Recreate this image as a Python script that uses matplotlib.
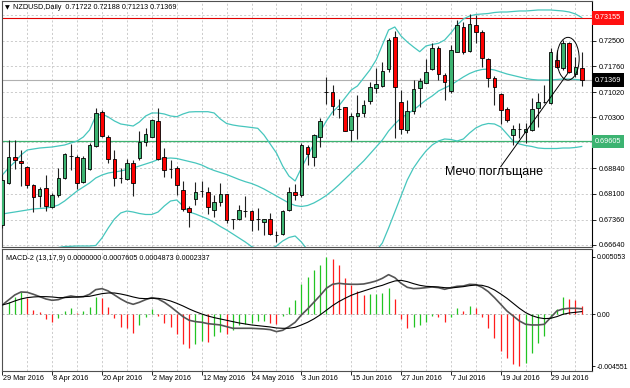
import matplotlib
matplotlib.use('Agg')
import matplotlib.pyplot as plt
from matplotlib.patches import Ellipse
import numpy as np
import pandas as pd

# ---------------- data ----------------
dates = pd.bdate_range('2016-03-29', '2016-08-05')

open_ = [0.67207,0.68422,0.69169,0.69054,0.68864,0.68356,0.68040,0.68261,0.67733,0.68069,
         0.68548,0.69189,0.69169,0.68442,0.68807,0.69476,0.70461,0.69743,0.69094,0.68548,
         0.68520,0.68979,0.69123,0.69600,0.69743,0.70194,0.69151,0.68807,0.68835,0.68212,
         0.67687,0.67945,0.68184,0.68164,0.67638,0.67877,0.68089,0.67379,0.67379,0.67618,
         0.67609,0.67370,0.67302,0.67370,0.66920,0.66949,0.67638,0.68146,0.68069,0.69456,
         0.69169,0.69726,0.71035,0.71018,0.70547,0.70588,0.69936,0.70338,0.70433,0.70768,
         0.71150,0.71199,0.71679,0.72615,0.70748,0.69936,0.70481,0.71150,0.71294,0.71679,
         0.72282,0.71515,0.71056,0.72184,0.72902,0.72213,0.72951,0.72741,0.71966,0.71420,
         0.70969,0.70530,0.69792,0.69964,0.69869,0.69936,0.70559,0.70748,0.70702,0.71946,
         0.71707,0.72425,0.71544,0.71722]
high = [0.68672,0.69648,0.69648,0.69361,0.68902,0.68385,0.68307,0.68643,0.68126,0.68835,
        0.69266,0.69525,0.69218,0.69189,0.69571,0.70559,0.70510,0.69792,0.69361,0.68835,
        0.69094,0.69074,0.69907,0.69984,0.70251,0.70559,0.69410,0.69074,0.68902,0.68480,
        0.67753,0.68451,0.68480,0.68290,0.68069,0.68405,0.68097,0.67385,0.67782,0.68048,
        0.67638,0.67687,0.67379,0.67543,0.67043,0.67638,0.68290,0.68385,0.69554,0.69505,
        0.69821,0.70272,0.71466,0.71228,0.70817,0.70596,0.70415,0.70941,0.70797,0.71323,
        0.71707,0.71897,0.72569,0.72787,0.71084,0.70797,0.71372,0.71420,0.71966,0.72425,
        0.72348,0.71564,0.72377,0.73095,0.73037,0.73267,0.73238,0.72807,0.72003,0.71486,
        0.70998,0.70605,0.70079,0.70137,0.70137,0.70855,0.71007,0.71228,0.72282,0.72233,
        0.72520,0.72473,0.72032,0.72188]
low = [0.67121,0.68385,0.68807,0.68327,0.68261,0.67589,0.67733,0.67618,0.67695,0.68020,
       0.68520,0.68787,0.68233,0.68413,0.68787,0.69456,0.69726,0.68979,0.68327,0.68405,
       0.68500,0.68040,0.69074,0.69476,0.69735,0.69074,0.68577,0.68548,0.68069,0.67618,
       0.67141,0.67782,0.68020,0.67523,0.67446,0.67753,0.67256,0.67083,0.67351,0.67446,
       0.67043,0.67064,0.66920,0.66920,0.66728,0.66920,0.67609,0.67925,0.68003,0.68930,
       0.68902,0.69439,0.70682,0.70366,0.70289,0.69907,0.69628,0.69668,0.70318,0.70673,
       0.71007,0.71179,0.71610,0.69697,0.69821,0.69858,0.70386,0.70605,0.71277,0.71659,
       0.71372,0.70797,0.70989,0.72176,0.72118,0.72176,0.72425,0.71754,0.71179,0.70654,
       0.70108,0.70174,0.69505,0.69706,0.69562,0.69916,0.70022,0.70711,0.70682,0.71716,
       0.71659,0.71573,0.71466,0.71213]
close = [0.68500,0.69169,0.69074,0.68979,0.68356,0.68020,0.68233,0.67753,0.68069,0.68548,
         0.69238,0.69192,0.68422,0.69123,0.69505,0.70433,0.69763,0.69112,0.68548,0.68552,
         0.68979,0.68405,0.69600,0.69821,0.70223,0.69103,0.68787,0.68803,0.68356,0.67658,
         0.67589,0.68146,0.68180,0.67733,0.67877,0.68089,0.67351,0.67375,0.67638,0.67614,
         0.67351,0.67366,0.67370,0.66949,0.66924,0.67618,0.68164,0.68069,0.69505,0.69246,
         0.69792,0.70194,0.71031,0.70625,0.70543,0.69916,0.70338,0.70433,0.70654,0.71162,
         0.71248,0.71630,0.72520,0.71162,0.69956,0.70481,0.71104,0.71351,0.71593,0.72282,
         0.71544,0.71323,0.72233,0.72951,0.72184,0.72978,0.72759,0.71995,0.71420,0.71162,
         0.70510,0.70223,0.69964,0.69960,0.69964,0.70530,0.70748,0.70752,0.72184,0.71736,
         0.72425,0.71593,0.71736,0.71369]

bb_upper = [0.68643,0.68844,0.69016,0.69217,0.69361,0.69390,0.69418,0.69433,0.69447,0.69476,
            0.69505,0.69562,0.69619,0.69734,0.69935,0.70337,0.70395,0.70309,0.70194,0.70108,
            0.70079,0.70050,0.70165,0.70337,0.70424,0.70424,0.70395,0.70337,0.70317,0.70395,
            0.70452,0.70461,0.70461,0.70461,0.70424,0.70251,0.70122,0.70079,0.70050,0.70030,
            0.70007,0.69984,0.69792,0.69533,0.69275,0.68901,0.68614,0.68471,0.68844,0.69189,
            0.69533,0.69878,0.70194,0.70452,0.70625,0.70854,0.71084,0.71199,0.71429,0.71659,
            0.71946,0.72377,0.72807,0.72894,0.72635,0.72463,0.72319,0.72184,0.72348,0.72391,
            0.72425,0.72520,0.72721,0.72951,0.73123,0.73209,0.73253,0.73267,0.73281,0.73310,
            0.73324,0.73324,0.73339,0.73353,0.73353,0.73367,0.73382,0.73382,0.73382,0.73367,
            0.73353,0.73324,0.73267,0.73166]
bb_mid = [0.67523,0.67552,0.67580,0.67609,0.67638,0.67667,0.67681,0.67695,0.67724,0.67781,
          0.67896,0.68040,0.68183,0.68298,0.68413,0.68557,0.68643,0.68700,0.68729,0.68758,
          0.68801,0.68844,0.68901,0.68959,0.69016,0.69088,0.69117,0.69131,0.69117,0.69074,
          0.69031,0.68988,0.68930,0.68844,0.68772,0.68715,0.68657,0.68586,0.68514,0.68451,
          0.68399,0.68327,0.68241,0.68140,0.68040,0.67939,0.67839,0.67767,0.67738,0.67767,
          0.67839,0.67939,0.68054,0.68198,0.68356,0.68528,0.68700,0.68873,0.69045,0.69246,
          0.69447,0.69648,0.69907,0.70108,0.70280,0.70395,0.70510,0.70653,0.70797,0.70912,
          0.71055,0.71142,0.71228,0.71343,0.71458,0.71558,0.71630,0.71673,0.71687,0.71659,
          0.71601,0.71544,0.71501,0.71458,0.71414,0.71386,0.71371,0.71371,0.71371,0.71386,
          0.71400,0.71400,0.71386,0.71371]
bb_lower = [0.66259,0.66317,0.66345,0.66374,0.66403,0.66432,0.66460,0.66489,0.66518,0.66561,
            0.66589,0.66595,0.66604,0.66604,0.66604,0.66618,0.66834,0.67121,0.67379,0.67552,
            0.67609,0.67580,0.67537,0.67509,0.67509,0.67580,0.67753,0.67896,0.67925,0.67753,
            0.67580,0.67523,0.67451,0.67379,0.67279,0.67164,0.67063,0.66949,0.66834,0.66719,
            0.66589,0.66518,0.66489,0.66518,0.66604,0.66747,0.66848,0.66891,0.66719,0.66489,
            0.66317,0.66231,0.66144,0.66087,0.66058,0.66058,0.66087,0.66144,0.66231,0.66317,
            0.66460,0.66690,0.67121,0.67580,0.68040,0.68499,0.68844,0.69103,0.69332,0.69505,
            0.69619,0.69677,0.69663,0.69619,0.69677,0.69849,0.69993,0.70079,0.70122,0.70108,
            0.70022,0.69821,0.69619,0.69533,0.69490,0.69462,0.69418,0.69404,0.69404,0.69404,
            0.69418,0.69418,0.69433,0.69462]

macd_hist = [0.000874,0.001049,0.001544,0.001981,0.001398,0.000350,0.000233,-0.000408,-0.000641,-0.000350,
             0.000291,0.000583,0.000087,0.000320,0.000670,0.001544,0.001398,0.000670,-0.000350,-0.001078,
             -0.001165,-0.001660,-0.000932,-0.000204,0.000437,-0.000117,-0.000787,-0.001078,-0.001748,-0.002622,
             -0.002971,-0.002622,-0.002330,-0.002418,-0.001864,-0.001573,-0.001748,-0.001369,-0.000932,-0.000874,
             -0.000787,-0.000612,-0.000553,-0.000787,-0.000845,-0.000117,0.000670,0.001253,0.002622,0.003292,
             0.003874,0.004311,0.005053,0.004836,0.004311,0.003204,0.002563,0.002039,0.001690,0.001733,
             0.001777,0.001835,0.002330,0.001340,-0.000408,-0.001165,-0.001107,-0.000932,-0.000641,-0.000117,
             -0.000204,-0.000641,-0.000204,0.000583,0.000291,0.000728,0.000583,-0.000204,-0.001165,-0.002097,
             -0.003204,-0.003845,-0.004370,-0.004551,-0.004282,-0.003408,-0.002534,-0.001864,-0.000291,0.000466,
             0.001544,0.001340,0.001253,0.000761]
macd_line = [0.000816,0.001253,0.001690,0.001952,0.001923,0.001748,0.001544,0.001340,0.001223,0.001282,
             0.001486,0.001602,0.001515,0.001544,0.001748,0.002156,0.002243,0.002039,0.001690,0.001340,
             0.001049,0.000874,0.001049,0.001282,0.001457,0.001340,0.001049,0.000670,0.000233,-0.000204,
             -0.000524,-0.000641,-0.000699,-0.000816,-0.000874,-0.000932,-0.001078,-0.001223,-0.001223,-0.001223,
             -0.001223,-0.001253,-0.001282,-0.001340,-0.001515,-0.001398,-0.001078,-0.000699,-0.000058,0.000466,
             0.001049,0.001631,0.002272,0.002622,0.002709,0.002651,0.002622,0.002622,0.002651,0.002767,
             0.002913,0.003146,0.003466,0.003204,0.002709,0.002360,0.002243,0.002272,0.002330,0.002389,
             0.002330,0.002185,0.002330,0.002447,0.002476,0.002622,0.002593,0.002360,0.001981,0.001457,
             0.000874,0.000291,-0.000146,-0.000583,-0.000874,-0.000932,-0.000932,-0.000874,-0.000291,0.000291,
             0.000466,0.000524,0.000524,0.000487]
signal_line = [0.000816,0.000961,0.001165,0.001340,0.001457,0.001515,0.001544,0.001544,0.001515,0.001457,
               0.001457,0.001486,0.001515,0.001544,0.001573,0.001690,0.001806,0.001864,0.001864,0.001777,
               0.001660,0.001515,0.001398,0.001369,0.001398,0.001398,0.001311,0.001165,0.000961,0.000728,
               0.000466,0.000233,0.000029,-0.000146,-0.000291,-0.000408,-0.000524,-0.000641,-0.000757,-0.000845,
               -0.000932,-0.000990,-0.001049,-0.001107,-0.001194,-0.001223,-0.001223,-0.001136,-0.000932,-0.000699,
               -0.000408,-0.000058,0.000350,0.000757,0.001107,0.001398,0.001660,0.001864,0.002039,0.002214,
               0.002389,0.002534,0.002738,0.002913,0.002971,0.002855,0.002680,0.002534,0.002447,0.002418,
               0.002389,0.002330,0.002301,0.002360,0.002418,0.002505,0.002563,0.002534,0.002389,0.002126,
               0.001777,0.001398,0.000961,0.000524,0.000146,-0.000117,-0.000291,-0.000379,-0.000350,-0.000204,
               0.000000,0.000117,0.000175,0.000234]

price_ticks = [0.72500, 0.71760, 0.71020, 0.70300, 0.68840, 0.68100, 0.67360, 0.66640]
price_grid_extra = [0.73240, 0.69580]
resistance = 0.73155
support = 0.69605
last_price = 0.71369
macd_ticks = [0.005053, 0.0, -0.004551]
macd_tick_labels = ['0.005053', '0.00', '-0.004551']
header_main = 'NZDUSD,Daily  0.71722 0.72188 0.71213 0.71369'
header_macd = 'MACD-2 (13,17,9) 0.0000000 0.0007605 0.0004873 0.0002337'
pattern_label = 'Мечо поглъщане'

# ---------------- style ----------------
W, H = 630, 388
SMALL = ['Liberation Sans', 'DejaVu Sans']
FS = 5.2
GREEN = '#3cb371'
RED = '#ff0000'
BB = '#46c6bd'
GRID = '#c4c4c4'
DASH = (0, (2.5, 2.5))

plt.rcParams['font.family'] = SMALL

fig = plt.figure(figsize=(W / 100, H / 100), dpi=100)
fig.patch.set_facecolor('white')

ax = fig.add_axes([2 / W, 1 - 247 / H, 590 / W, 246 / H])
ax2 = fig.add_axes([2 / W, 1 - 371 / H, 590 / W, 122 / H])

n = len(close)
x = np.arange(n)
o = np.array(open_); c = np.array(close); h = np.array(high); l = np.array(low)

for a in (ax, ax2):
    a.set_xlim(-0.05, 94.65)
    for i in range(0, n, 4):
        a.axvline(i, color=GRID, lw=0.6, ls=DASH, zorder=0)
    for s in a.spines.values():
        s.set_color('#505050')
        s.set_linewidth(0.8)
    a.spines['right'].set_color('black')

# ---- main panel ----
ax.set_ylim(0.66575, 0.73640)
for yv in price_ticks + price_grid_extra:
    ax.axhline(yv, color=GRID, lw=0.6, ls=DASH, zorder=0)

ax.axhline(last_price, color='#b0b0b0', lw=0.8, zorder=1)
ax.axhline(resistance, color='#e00000', lw=0.8, zorder=1)
ax.axhline(support, color=GREEN, lw=0.9, zorder=1)

ax.plot(x, bb_upper, color=BB, lw=0.9, zorder=2)
ax.plot(x, bb_mid, color=BB, lw=0.9, zorder=2)
ax.plot(x, bb_lower, color=BB, lw=0.9, zorder=2)

body_col = np.where(c > o, GREEN, np.where(c < o, RED, 'black'))
ax.vlines(x, l, h, color='#202020', lw=0.8, zorder=3)
ax.bar(x, np.maximum(np.abs(c - o), 1e-6), bottom=np.minimum(o, c), width=0.58,
       color=body_col, edgecolor='black', linewidth=0.6, zorder=4)

ax.set_xticks([])
ax.yaxis.tick_right()
ax.set_yticks(price_ticks)
ax.set_yticklabels([f'{v:.5f}' for v in price_ticks], fontsize=FS)
ax.tick_params(axis='y', length=3, width=0.6, pad=2, colors='black')


def tag(axis, val, fc):
    axis.annotate(f'{val:.5f}', xy=(1.0, val), xycoords=('axes fraction', 'data'),
                  xytext=(2.0, 0), textcoords='offset points', ha='left', va='center',
                  fontsize=FS, color='white',
                  bbox=dict(boxstyle='square,pad=0.45', fc=fc, ec='none'),
                  annotation_clip=False, zorder=10)


tag(ax, resistance, '#ff1010')
tag(ax, last_price, 'black')
tag(ax, support, GREEN)

# annotation: ellipse + pointer line + label
ax.add_patch(Ellipse((90.8, 0.71983), width=3.58, height=0.01226, fill=False,
                     ec='black', lw=0.7, zorder=6))
ax.plot([80.0, 90.8], [0.68882, 0.71573], color='black', lw=0.7, zorder=6)
ax.text(71.1, 0.68729, pattern_label, fontsize=9, family=['Liberation Sans', 'DejaVu Sans'],
        ha='left', va='center', color='black', zorder=7)

# ---- MACD panel ----
ax2.set_ylim(-0.004957, 0.005709)
ax2.axhline(0, color='#a8a8a8', lw=0.6, ls=DASH, zorder=0)
hist = np.array(macd_hist)
prev = np.concatenate([[hist[0]], hist[:-1]])
hcol = np.where(hist >= prev, '#22c422', '#ff1c1c')
ax2.vlines(x, 0, hist, colors=hcol, lw=0.9, zorder=2)
ax2.plot(x, macd_line, color='#555555', lw=1.2, zorder=3)
ax2.plot(x, signal_line, color='black', lw=0.8, zorder=4)

ax2.yaxis.tick_right()
ax2.set_yticks(macd_ticks)
ax2.set_yticklabels(macd_tick_labels, fontsize=5.0)
ax2.tick_params(axis='y', length=2.5, width=0.6, pad=1.0, colors='black')

lab_idx = list(range(0, n, 8))
ax2.set_xticks(lab_idx)
ax2.set_xticklabels([])
ax2.tick_params(axis='x', length=3, width=0.6, direction='out', colors='black')
for i in lab_idx:
    d = dates[i]
    ax2.annotate(f'{d.day} {d.strftime("%b %Y")}', xy=(i, 0), xycoords=('data', 'axes fraction'),
                 xytext=(0.6, -3.0), textcoords='offset points', ha='left', va='top',
                 fontsize=FS, annotation_clip=False)

# headers
fig.text(5 / W, 1 - 7.5 / H, '▼', fontsize=4.5, family=['DejaVu Sans'], ha='left', va='center')
fig.text(13 / W, 1 - 7.5 / H, header_main, fontsize=FS, ha='left', va='center')
fig.text(6 / W, 1 - 258 / H, header_macd, fontsize=FS, ha='left', va='center')

fig.savefig('out.png', dpi=100, facecolor='white')
